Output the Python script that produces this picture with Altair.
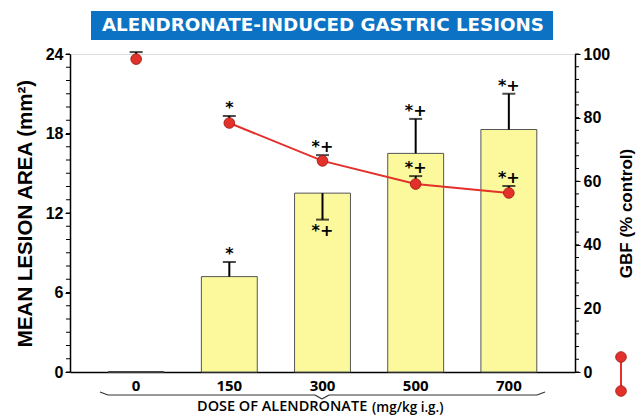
import altair as alt
import pandas as pd

doses = ["0", "150", "300", "500", "700"]
lesion_area = [0.0, 7.2, 13.5, 16.5, 18.3]
lesion_err_end = [None, 8.3, 11.5, 19.1, 21.0]
lesion_sig = ["", "*", "*+", "*+", "*+"]
gbf = [98.4, 78.3, 66.4, 59.1, 56.3]
gbf_err_end = [100.6, 80.5, 68.2, 61.6, 58.5]
gbf_sig = ["", "*", "*+", "*+", "*+"]

left_major = [0, 6, 12, 18, 24]
left_minor = list(range(0, 25))
right_major = [0, 20, 40, 60, 80, 100]
right_minor = list(range(0, 101, 4))

df = pd.DataFrame({
    "dose": doses,
    "lesion": lesion_area,
    "lesion_err": lesion_err_end,
    "lesion_sig": lesion_sig,
    "gbf": gbf,
    "gbf_err": gbf_err_end,
    "gbf_sig": gbf_sig,
})

RED = "#e3302a"
FONT_AX = "Liberation Sans"
FONT_G = "DejaVu Sans"

xscale = alt.Scale(domain=doses, paddingInner=0.4, paddingOuter=0.41)
x_axis = alt.Axis(labelFont="Open Sans", labelFontSize=15, labelFontWeight="bold",
                  labelColor="black", labelAngle=0, labelPadding=6, ticks=False,
                  domainColor="black", domainWidth=1.5, title=None)
X = alt.X("dose:N", sort=doses, scale=xscale, title=None, axis=x_axis)

yL = alt.Scale(domain=[0, 24], nice=False)
yR = alt.Scale(domain=[0, 100], nice=False)

left_axis = alt.Axis(
    values=left_major, labelOverlap=False,
    tickSize=5, tickColor="black", domainColor="black", domainWidth=1.5, tickWidth=1,
    grid=False, labelFont=FONT_AX, labelFontSize=16, labelFontWeight="bold",
    labelColor="black", labelPadding=2,
    title="MEAN LESION AREA (mm²)", titleFont=FONT_AX, titleFontSize=20.5,
    titleFontWeight="bold", titleColor="black", titlePadding=10,
)
right_axis = alt.Axis(
    orient="right",
    values=right_major, labelOverlap=False,
    tickSize=5, tickColor="black", domainColor="black", domainWidth=1.5, tickWidth=1,
    grid=False, labelFont=FONT_AX, labelFontSize=16, labelFontWeight="bold",
    labelColor="black", labelPadding=3,
    title="GBF (% control)", titleFont=FONT_AX, titleFontSize=17,
    titleFontWeight="bold", titleColor="black", titlePadding=26, titleAngle=270,
)

base = alt.Chart(df)
STAR = dict(font="DejaVu Sans", fontSize=16, fontWeight="bold", color="black", baseline="alphabetic")

bars = base.mark_bar(fill="#fbf99c", stroke="#555555", strokeWidth=1).encode(
    x=X, y=alt.Y("lesion:Q", scale=yL, axis=left_axis))
zero_line = base.transform_filter("datum.dose == '0'").mark_tick(
    color="#333333", thickness=2, size=56).encode(
    x=X, y=alt.Y("lesion:Q", scale=yL))
l_err = base.transform_filter("datum.lesion_err != null").mark_rule(
    color="black", strokeWidth=2).encode(
    x=X, y=alt.Y("lesion:Q", scale=yL), y2="lesion_err:Q")
l_cap = base.transform_filter("datum.lesion_err != null").mark_tick(
    color="black", thickness=2, size=13).encode(
    x=X, y=alt.Y("lesion_err:Q", scale=yL))
l_sig_up = base.transform_filter("datum.lesion_err != null && datum.lesion_err > datum.lesion").mark_text(
    dy=-3, **STAR).encode(
    x=X, y=alt.Y("lesion_err:Q", scale=yL), text="lesion_sig:N")
l_sig_dn = base.transform_filter("datum.lesion_err != null && datum.lesion_err < datum.lesion").mark_text(
    dy=16, **STAR).encode(
    x=X, y=alt.Y("lesion_err:Q", scale=yL), text="lesion_sig:N")
l_minor = alt.Chart(pd.DataFrame({"v": left_minor})).mark_rule(color="black", strokeWidth=1).encode(
    y=alt.Y("v:Q", scale=yL), x=alt.value(-4), x2=alt.value(0))

left = alt.layer(bars, zero_line, l_err, l_cap, l_sig_up, l_sig_dn, l_minor)

g_line = base.transform_filter("datum.dose != '0'").mark_line(color=RED, strokeWidth=2).encode(
    x=X, y=alt.Y("gbf:Q", scale=yR, axis=right_axis))
g_err = base.mark_rule(color="black", strokeWidth=2).encode(
    x=X, y=alt.Y("gbf:Q", scale=yR), y2="gbf_err:Q")
g_cap = base.mark_tick(color="black", thickness=2, size=13).encode(
    x=X, y=alt.Y("gbf_err:Q", scale=yR))
g_pts = base.mark_circle(size=115, fill=RED, stroke="#9a1a14", strokeWidth=0.8, opacity=1).encode(
    x=X, y=alt.Y("gbf:Q", scale=yR))
g_sig = base.mark_text(dy=-3, **STAR).encode(
    x=X, y=alt.Y("gbf_err:Q", scale=yR), text="gbf_sig:N")
r_minor = alt.Chart(pd.DataFrame({"v": right_minor})).mark_rule(color="black", strokeWidth=1).encode(
    y=alt.Y("v:Q", scale=yR), x=alt.value(505), x2=alt.value(509))

right = alt.layer(g_line, g_err, g_cap, g_pts, g_sig, r_minor)

one = alt.Data(values=[{"k": 1}])

title_rect = alt.Chart(one).mark_rect(color="#0c73c4").encode(
    x=alt.value(21), x2=alt.value(483), y=alt.value(-43), y2=alt.value(-14))
title_txt = alt.Chart(one).mark_text(
    text="ALENDRONATE-INDUCED GASTRIC LESIONS", color="white", font=FONT_G,
    fontSize=18.3, fontWeight="bold", align="center", baseline="middle").encode(
    x=alt.value(253), y=alt.value(-28))

leg_rule = alt.Chart(one).mark_rule(color=RED, strokeWidth=2).encode(
    x=alt.value(551), y=alt.value(303), y2=alt.value(337))
leg_pt1 = alt.Chart(one).mark_circle(size=115, fill=RED, stroke="#9a1a14", strokeWidth=0.8, opacity=1).encode(
    x=alt.value(551), y=alt.value(303))
leg_pt2 = alt.Chart(one).mark_circle(size=115, fill=RED, stroke="#9a1a14", strokeWidth=0.8, opacity=1).encode(
    x=alt.value(551), y=alt.value(337))

brace_segs = []
for (x1, y1, x2, y2) in [(30, 338, 38, 341), (38, 341, 245, 341), (245, 341, 252, 345),
                         (252, 345, 259, 341), (259, 341, 467, 341), (467, 341, 475, 338)]:
    brace_segs.append(alt.Chart(one).mark_rule(color="#333333", strokeWidth=1.2).encode(
        x=alt.value(x1), y=alt.value(y1), x2=alt.value(x2), y2=alt.value(y2)))

xt1 = alt.Chart(one).mark_text(text="DOSE OF ALENDRONATE", font="Open Sans", fontSize=14.5, fontWeight=600,
                               color="black", align="left", baseline="middle").encode(
    x=alt.value(127), y=alt.value(353))
xt2 = alt.Chart(one).mark_text(text="(mg/kg i.g.)", font="Open Sans", fontSize=13.5, fontWeight=600,
                               color="black", align="left", baseline="middle").encode(
    x=alt.value(302), y=alt.value(354))

deco = alt.layer(title_rect, title_txt, leg_rule, leg_pt1, leg_pt2, *brace_segs, xt1, xt2)

chart = alt.layer(left, right, deco).resolve_scale(y="independent").properties(
    width=505, height=318,
    padding={"left": 62, "top": 46, "right": 61, "bottom": 46},
    autosize=alt.AutoSizeParams(type="none"),
).configure_view(stroke=None).configure(background="white")

chart.save("out.html", embed_options={"renderer": "svg", "actions": False})
